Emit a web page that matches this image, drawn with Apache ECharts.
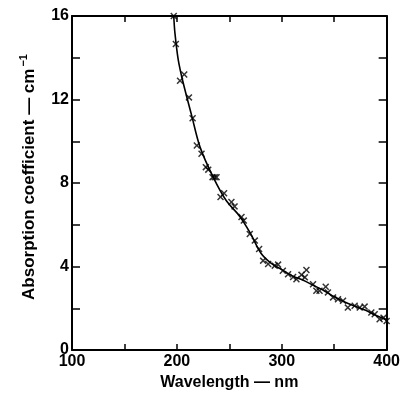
<!DOCTYPE html>
<html>
<head>
<meta charset="utf-8">
<script src="https://cdn.jsdelivr.net/npm/echarts@6/dist/echarts.min.js"></script>
<style>
  html, body { margin: 0; padding: 0; background: #fff; }
  #main { width: 403px; height: 404px; }
</style>
</head>
<body>
<div id="main"></div>
<script>
// measured points (x marks)
var wavelength = [197, 199, 203, 207, 211.5, 215, 219, 223.5, 227.6, 229.9, 234, 236, 237.8, 241.6, 245,
    252, 255, 261.6, 263.8, 269.5, 274.3, 278.4, 282.2, 287, 293.3, 296.5, 301, 306, 310.8, 314,
    318.8, 322, 323.5, 329.8, 333, 336, 341.9, 344, 348.9, 353.6, 358.4, 363, 369.5, 374.3, 379,
    385.4, 388.6, 393.3, 397, 400];
var absorption = [16, 14.66, 12.9, 13.2, 12.1, 11.1, 9.8, 9.4, 8.76, 8.64, 8.28, 8.28, 8.28, 7.33, 7.51,
    7.09, 6.88, 6.37, 6.2, 5.56, 5.24, 4.84, 4.28, 4.12, 4.04, 4.09, 3.8, 3.63, 3.5, 3.39,
    3.6, 3.48, 3.83, 3.15, 2.84, 2.84, 3.03, 2.76, 2.52, 2.43, 2.36, 2.03, 2.12, 2.03, 2.08,
    1.8, 1.71, 1.47, 1.55, 1.39];

// fitted curve
var curveX = [197, 198.1, 201.3, 206, 214, 222, 234.6, 247, 260, 270, 280, 290, 300, 310, 320, 330, 340, 350, 360, 370, 380, 390, 400];
var curveY = [16, 15.2, 13.9, 12.8, 11.25, 9.73, 8.28, 7.16, 6.4, 5.6, 4.65, 4.15, 3.85, 3.55, 3.35, 3.1, 2.85, 2.55, 2.3, 2.1, 1.9, 1.65, 1.45];

var chart = echarts.init(document.getElementById('main'));

var pts = [];
for (var i = 0; i < wavelength.length; i++) pts.push([wavelength[i], absorption[i]]);
var line = [];
for (var j = 0; j < curveX.length; j++) line.push([curveX[j], curveY[j]]);

var font = 'Liberation Sans';
var axisLine = { show: true, onZero: false, lineStyle: { color: '#000', width: 2 } };

var option = {
    animation: false,
    backgroundColor: '#fff',
    grid: { left: 72, right: 14, top: 16, bottom: 54 },
    xAxis: [
        {
            type: 'value', min: 100, max: 400, interval: 50,
            name: 'Wavelength — nm', nameLocation: 'middle', nameGap: 24,
            nameTextStyle: { fontFamily: font, fontWeight: 'bold', fontSize: 16, color: '#000' },
            axisLine: axisLine,
            axisTick: { inside: true, length: 6, lineStyle: { color: '#000', width: 1.5 } },
            axisLabel: {
                margin: 4, fontFamily: font, fontWeight: 'bold', fontSize: 16, color: '#000',
                formatter: function (v) { return v % 100 === 0 ? String(v) : ''; }
            },
            splitLine: { show: false }
        },
        {
            type: 'value', position: 'top', min: 100, max: 400, interval: 50,
            axisLine: axisLine,
            axisTick: { inside: true, length: 6, lineStyle: { color: '#000', width: 1.5 } },
            axisLabel: { show: false },
            splitLine: { show: false }
        }
    ],
    yAxis: [
        {
            type: 'value', min: 0, max: 16, interval: 2,
            name: '{a|Absorption coefficient — cm}{s|−1}', nameLocation: 'middle', nameGap: 32,
            nameRotate: 90,
            nameTextStyle: {
                padding: [0, 0, 0, 12],
                rich: {
                    a: { fontFamily: font, fontWeight: 'bold', fontSize: 17, color: '#000' },
                    s: { fontFamily: font, fontWeight: 'bold', fontSize: 11, color: '#000', padding: [0, 0, 11, 2] }
                }
            },
            axisLine: axisLine,
            axisTick: { inside: true, length: 8, lineStyle: { color: '#000', width: 1.5 } },
            axisLabel: {
                margin: 3, fontFamily: font, fontWeight: 'bold', fontSize: 16, color: '#000',
                formatter: function (v) { return v % 4 === 0 ? String(v) : ''; }
            },
            splitLine: { show: false }
        },
        {
            type: 'value', position: 'right', min: 0, max: 16, interval: 2,
            axisLine: axisLine,
            axisTick: { inside: true, length: 8, lineStyle: { color: '#000', width: 1.5 } },
            axisLabel: { show: false },
            splitLine: { show: false }
        }
    ],
    series: [
        {
            type: 'line', data: line, smooth: 0.3, showSymbol: false, symbol: 'none',
            lineStyle: { color: '#000', width: 1.6 }, z: 3
        },
        {
            type: 'scatter', data: pts,
            symbol: 'path://M0,1.5L1.5,0L5,3.5L8.5,0L10,1.5L6.5,5L10,8.5L8.5,10L5,6.5L1.5,10L0,8.5L3.5,5Z',
            symbolSize: 7,
            itemStyle: { color: '#000' }, z: 4
        }
    ]
};
chart.setOption(option);
</script>
</body>
</html>
